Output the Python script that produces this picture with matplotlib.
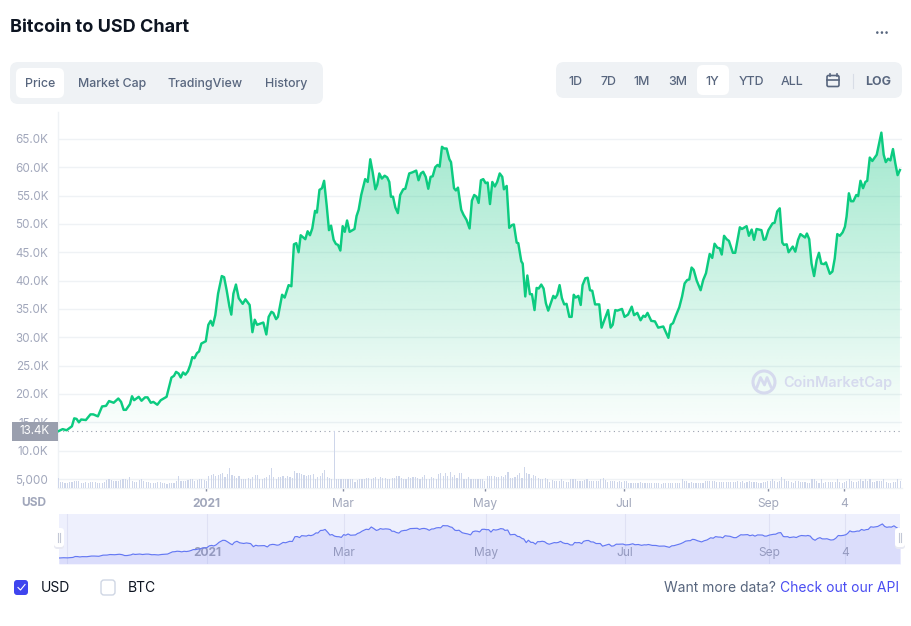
import numpy as np
import matplotlib
matplotlib.use("Agg")
import matplotlib.pyplot as plt
from matplotlib.patches import FancyBboxPatch, Rectangle, Arc, Polygon

plt.rcParams['font.family'] = ['Inter', 'DejaVu Sans']

days = [0,2,3.7,6,7,8,9,10,12,14,15.2,17.2,19,20.7,22,24,26,27.2,28.3,29.3,31,31.9,32.8,34.8,36,37.5,38.6,40,41.1,42.8,44.3,46.8,48.9,50,50.9,52,52.9,53.9,54.9,56,57,57.9,58.8,59.9,60.8,61.8,63.7,64.8,65.8,66.7,67.8,69,70.6,71.6,72.7,73.9,74.7,75.6,76.7,77.9,79.6,80.8,82.6,83.8,84.8,85.8,88.5,89.8,90.8,92,92.8,94,94.8,96.6,97.7,99.4,100.6,101.7,102.7,103.7,104.6,106.6,107.6,108.6,109.6,110.8,111.6,112.7,113.8,114.7,115.8,116.8,117.7,118.8,119.8,120.7,121.7,122.7,123.6,124.6,125.7,
127.8,128.7,129.6,130.7,132.4,133.5,134.6,135.6,136.8,137.6,138.5,139.6,140.8,141.9,142.8,143.5,144.4,145.4,146.5,147.5,148.8,149.7,151.4,152.8,154.4,155.4,156.4,157.4,158.5,159.6,160.6,161.5,162.6,163.6,164.5,165.5,166.4,167.5,168.7,169.4,170.7,171.5,172.4,173.8,174.8,176.1,177.4,178.4,179.4,180.4,181.3,182.3,183.3,184.3,185.2,186.2,187.2,188.3,189.3,190.4,191.5,192.2,193.4,194.5,195.7,196.5,197.7,198.4,199.7,200.3,201.4,202.3,203.4,204.3,205.4,206.3,207.2,208.3,209.3,210.3,211.3,213.5,214.3,215.2,216.2,217.2,218.2,219.2,220.4,221.4,222.3,223.1,224.3,225.3,226.1,227.3,228.3,229.3,230.3,231.5,233.3,234.3,237.1,238.2,239.1,240.2,241.1,
243.1,244.2,245.7,247.3,248.3,249.7,251.1,252.3,253.1,254.1,255.7,257.3,258.7,260.9,263.1,264.1,265.1,266.1,267.8,269,270.1,271.2,272.1,273.1,274,275.3,277,278.1,279.3,280.9,282,283,284.2,285.2,286.1,287.1,288.2,289.2,290.9,291.9,293.9,294.8,296.8,297.8,299,300,301.1,303.2,304.2,305,306.2,308,308.9,310,311.1,312.2,312.9,314.1,314.9,316.7,317.8,319,320,322,322.8,323.8,324.8,325.9,327,328,329,330.2,331,332.7,333.8,334.8,335.9,337,338.2,339.2,339.9,340.9,341.8,342.8,344.1,344.9,345.9,347,348,348.8,349.9,351,352.9,354.9,355.9,356.8,357.8,358.8,359.9,360.9,361.9,362.9]

prices_k = [13.4,13.8,13.6,14.3,15.7,15.6,15.0,15.5,15.4,16.4,16.4,16.05,17.8,17.9,18.75,18.45,19.2,18.6,17.2,17.2,18.2,19.6,18.9,19.5,18.8,19.4,19.4,18.45,18.6,18.1,18.9,19.5,22.9,23.2,23.9,23.6,22.9,23.8,23.4,24,25.1,26.5,26.3,27.2,27.5,28.9,29.3,32.2,32.9,32.05,33.9,37.7,40.8,40.6,38.3,35.4,34.0,37.7,39.3,36.9,35.9,36.7,35.7,30.9,33.1,32.2,32.6,30.5,33.6,34.5,34.3,33.2,33.6,37.5,37,39.2,39.0,46.4,46.6,45,48,47.3,48.7,48,49.2,52.3,52,56,56.3,57.6,53.3,48.9,49.7,47.2,46.45,46.3,45.3,49.6,48.6,50.6,48.6,
49.1,51.4,52.5,55.1,57.9,57.4,61.4,59.2,56.1,56.9,58.9,58.0,58.5,58.2,57.4,54.8,54.8,52.9,51.9,55.1,56.1,56.2,58.9,59.1,59.4,57.7,58.9,59.2,58.3,56.2,58.3,58.4,60,60.4,60.1,63.6,63.3,63.3,61.4,60.9,56.3,55.9,56.4,52.5,51.6,50.7,49.2,54.1,55.1,54.8,53.7,57.7,57.9,57.2,57.3,53.5,57.4,56.6,57.4,58.9,58.3,56.1,56.7,49.3,49.8,49.9,46.7,46.6,43.4,43.0,37.2,40.9,37.6,37.6,34.8,38.7,38.6,39.3,38.6,36,34.7,37.3,36.9,37.5,39.2,36.9,35.8,35.9,33.6,33.6,37.5,37.0,37.3,35.7,39.2,40.4,40.5,38.3,38.2,35.8,35.8,31.7,34.8,31.7,32.2,34.8,34.7,
35,33.6,34,35.4,33.9,34.3,33,33.8,33.6,34.3,32.9,32.8,31.7,31.9,29.9,32.2,32.5,33.6,35.3,37.2,39.5,40.1,40.2,42.3,41.9,40,38.3,40.1,41.3,44.7,44,46.5,45.8,45.7,44.6,47.9,47.3,47,44.9,44.9,49.4,49.1,49.6,47.9,49,47.2,49.1,48.9,47.2,47.3,48.9,50.1,50.2,52.2,52.75,46.7,46.3,46.4,45,46,45.1,47.2,48.2,47.6,48.3,47.3,43.0,40.8,43.6,44.9,43,42.9,43.2,41.2,41.6,43.9,48.2,47.9,48.5,49.5,51.3,55.4,54,54,55.1,54.9,57.6,56.3,57.4,57.6,61.7,61.1,62.2,66.1,62.2,60.9,61.5,61.2,63.2,60.7,58.6,59.5]

volumes = [30,18,18,14,16,18,18,22,22,22,16,16,18,16,18,18,18,16,14,16,18,24,28,24,22,22,22,24,28,28,24,32,22,18,18,24,28,22,18,18,16,16,16,18,18,16,16,12,16,16,16,22,36,22,22,22,24,26,28,22,24,
28,28,24,20,36,38,42,36,38,42,46,32,42,60,38,36,30,36,28,26,26,30,28,32,38,38,28,28,30,32,38,60,32,28,34,34,36,30,36,32,30,50,46,44,42,40,36,38,40,42,28,34,36,46,54,32,30,26,
170,26,26,28,28,
26,28,28,28,18,24,28,28,28,30,30,28,30,34,26,34,30,30,28,28,30,30,36,36,30,26,28,32,30,34,32,30,28,34,40,28,26,34,30,28,42,46,36,44,36,48,34,38,30,44,46,28,26,32,28,28,26,26,26,26,22,36,36,36,36,34,32,36,34,38,48,30,30,32,40,46,30,62,46,42,30,40,36,30,28,28,
30,26,18,24,20,20,22,26,22,18,18,28,28,26,22,22,22,24,26,22,22,22,20,22,28,30,24,18,22,22,22,18,22,18,22,22,16,16,16,16,16,18,16,16,14,16,14,14,14,16,12,14,14,16,16,14,16,14,14,28,22,22,16,18,16,16,16,16,16,22,22,22,22,22,18,18,18,18,18,18,18,18,18,22,18,22,16,18,22,18,18,18,16,14,18,18,22,22,26,22,18,22,34,28,22,22,18,16,22,22,18,18,18,14,16,26,28,22,16,26,16,18,18,18,18,18,26,18,14,18,22,28,22,18,18,22,26,22,26,22,28,18,18,22,22,22,26,18,14,14,18,18,26,22]

price_ticks = [5,10,15,20,25,30,35,40,45,50,55,60,65]
price_labels = ['5,000','10.0K','15.0K','20.0K','25.0K','30.0K','35.0K','40.0K','45.0K','50.0K','55.0K','60.0K','65.0K']
date_ticks = [64,123,184,244,306,339]
date_labels = ['2021','Mar','May','Jul','Sep','4']
nav_lines = [3.3,64,123,184,244,306,339]
last_price = 13.4
tabs = ['Price','Market Cap','TradingView','History']
ranges = ['1D','7D','1M','3M','1Y','YTD','ALL']

W, H = 911, 626
GREEN = '#0ccb80'; GRID = '#eff2f5'; AXT = '#a1a7bb'; TXT = '#58667e'; DARK = '#0d1421'; VOL = '#ced6ea'

fig = plt.figure(figsize=(W/100, H/100), dpi=100, facecolor='white')
def axpx(l, t, r, b, **k):
    return fig.add_axes([l/W, 1-b/H, (r-l)/W, (b-t)/H], **k)

# main chart
ax = axpx(58, 112, 902, 488)
ax.set_xlim(0, 844/2.32)
ax.set_ylim(5+(479-488)*0.1764, 5+(479-112)*0.1764)
ax.set_facecolor('none')
for s in ('top','right'):
    ax.spines[s].set_visible(False)
for s in ('left','bottom'):
    ax.spines[s].set_color(GRID); ax.spines[s].set_linewidth(1)
ax.set_yticks(price_ticks, price_labels)
ax.tick_params(axis='y', length=0, pad=7, labelsize=8.4, labelcolor=AXT)
ax.set_xticks(date_ticks, date_labels)
ax.tick_params(axis='x', length=2.4, width=1, color='#858ca2', pad=4.6, labelsize=8.64, labelcolor=AXT)
ax.get_xticklabels()[0].set_fontweight('bold')
ax.grid(axis='y', color=GRID, lw=1)
ax.set_axisbelow(True)

# gradient area
grad = np.zeros((256, 2, 4))
grad[..., :3] = matplotlib.colors.to_rgb('#16c784')
top, bot = 66.5, last_price
grad[..., 3] = np.linspace(0.40, 0.015, 256)[:, None]
im = ax.imshow(grad, extent=(0, days[-1], bot, top), origin='upper', aspect='auto', zorder=1, interpolation='bilinear')
poly = Polygon(list(zip(days, prices_k)) + [(days[-1], bot), (days[0], bot)], closed=True, transform=ax.transData, fc='none', ec='none')
ax.add_patch(poly)
im.set_clip_path(poly)
ax.set_xlim(0, 844/2.32)
ax.set_ylim(5+(479-488)*0.1764, 5+(479-112)*0.1764)
ax.plot(days, prices_k, color=GREEN, lw=1.75, zorder=3, solid_joinstyle='round')
ax.axhline(last_price, color='#9aa0ae', lw=0.8, ls=(0, (1, 3.2)), zorder=2, xmax=days[-1]/(844/2.32))

# volume bars
vax = axpx(58, 112, 902, 488)
vax.set_xlim(0, 844/2.32)
vax.set_ylim(0, 376*3)
vax.axis('off')
vax.bar(np.arange(len(volumes)), volumes, width=0.5, color=VOL, linewidth=0)

# navigator
nav = axpx(59, 514, 900, 564)
nav.set_xlim(0, 841/2.32)
nav.set_ylim(13.4-6/0.646, 13.4+44/0.646)
nav.set_facecolor('#eef0fd')
for s in nav.spines.values():
    s.set_visible(False)
nav.set_xticks(date_ticks, date_labels)
nav.tick_params(axis='x', length=0, pad=-12.5, labelsize=8.64, labelcolor='#9a9fb5')
nav.get_xticklabels()[0].set_fontweight('bold')
nav.set_yticks([])
for d in nav_lines:
    nav.axvline(d, color='#dfe1f4', lw=0.8, zorder=1)
nav.fill_between(days, prices_k, nav.get_ylim()[0], color='#7a7ff5', alpha=0.16, lw=0, zorder=2)
nav.plot(days, prices_k, color='#6478f3', lw=0.85, zorder=3)
for lab in nav.get_xticklabels():
    lab.set_zorder(5)

# interface layer in pixel coordinates
ui = fig.add_axes([0, 0, 1, 1], facecolor='none')
ui.set_xlim(0, W); ui.set_ylim(H, 0); ui.axis('off')
def rbox(x0, y0, x1, y1, r, fc, ec='none', lw=0, z=2):
    ui.add_patch(FancyBboxPatch((x0+r, y0+r), x1-x0-2*r, y1-y0-2*r, boxstyle=f'round,pad={r},rounding_size={r}', fc=fc, ec=ec, lw=lw, zorder=z))

ui.text(10, 27.5, 'Bitcoin to USD Chart', fontsize=13, fontweight='bold', color=DARK, va='center', ha='left')
ui.text(882, 32.5, '•••', fontsize=6, color=TXT, va='center', ha='center')

rbox(10, 62, 323, 104, 8, GRID)
rbox(16, 68, 64, 98, 6, 'white', z=3)
for t, x in zip(tabs, [40, 112, 205, 286]):
    ui.text(x, 84, t, fontsize=8.9, fontweight='medium', color=TXT, ha='center', va='center', zorder=4)

rbox(556, 62, 902, 98, 8, GRID)
rbox(697, 65, 729, 95, 6, 'white', z=3)
for t, x in zip(ranges, [575, 608, 642, 678, 712, 751, 792]):
    ui.text(x, 82, t, fontsize=8.9, fontweight='medium', color=TXT, ha='center', va='center', zorder=4)
ui.text(878, 82, 'LOG', fontsize=8.9, fontweight='bold', color=TXT, ha='center', va='center', zorder=4)
ui.plot([853, 853], [74, 88], color='#d8dde6', lw=0.8, zorder=4)
ui.add_patch(FancyBboxPatch((827, 75.5), 12, 11, boxstyle='round,pad=0,rounding_size=1.5', fc='none', ec=TXT, lw=1.2, zorder=4))
ui.plot([827, 839], [79.5, 79.5], color=TXT, lw=1.2, zorder=4)
ui.plot([829.5, 829.5], [73.5, 76], color=TXT, lw=1.2, zorder=4)
ui.plot([836.5, 836.5], [73.5, 76], color=TXT, lw=1.2, zorder=4)

# last price badge
ui.add_patch(Rectangle((12, 422), 46, 19, fc='#9a9fae', ec='none', zorder=3))
ui.text(34.5, 431.5, '13.4K', fontsize=8.4, color='white', ha='center', va='center', zorder=4)
ui.text(34, 502.5, 'USD', fontsize=8.64, fontweight='bold', color=AXT, ha='center', va='center')

# watermark
WM = '#d6daee'
ui.add_patch(Arc((764, 382), 22, 22, angle=0, theta1=0, theta2=360, ec=WM, lw=2.2, zorder=3))
ui.plot([757, 760.5, 764.5, 767, 771], [387, 377.5, 385, 377.5, 387], color=WM, lw=2, zorder=3)
ui.text(783, 383, 'CoinMarketCap', fontsize=10.4, fontweight='semibold', color=WM, ha='left', va='center', zorder=3)

# navigator handles
for x in (59, 900):
    rbox(x-5, 530, x+5, 549, 3, '#e8e9f2', z=3)
    rbox(x-5, 528, x+5, 547, 3, 'white', z=4)
    ui.plot([x-1.2, x-1.2], [533, 542], color='#c3c8d6', lw=0.8, zorder=5)
    ui.plot([x+1.2, x+1.2], [533, 542], color='#c3c8d6', lw=0.8, zorder=5)

# legend
rbox(14, 580, 28, 595, 3, '#3f45ee')
ui.plot([18, 20.5, 25], [587.5, 590, 584.5], color='white', lw=0.8, zorder=4)
ui.text(41, 588, 'USD', fontsize=10, color=DARK, ha='left', va='center')
rbox(101, 580, 115, 595, 3, 'white', ec='#cfd6e4', lw=1)
ui.text(128, 588, 'BTC', fontsize=10, color=DARK, ha='left', va='center')
ui.text(776, 588, 'Want more data?', fontsize=10, color=TXT, ha='right', va='center')
ui.text(899, 588, 'Check out our API', fontsize=10, color='#4a4df2', ha='right', va='center')

fig.savefig('out.png', dpi=100)
